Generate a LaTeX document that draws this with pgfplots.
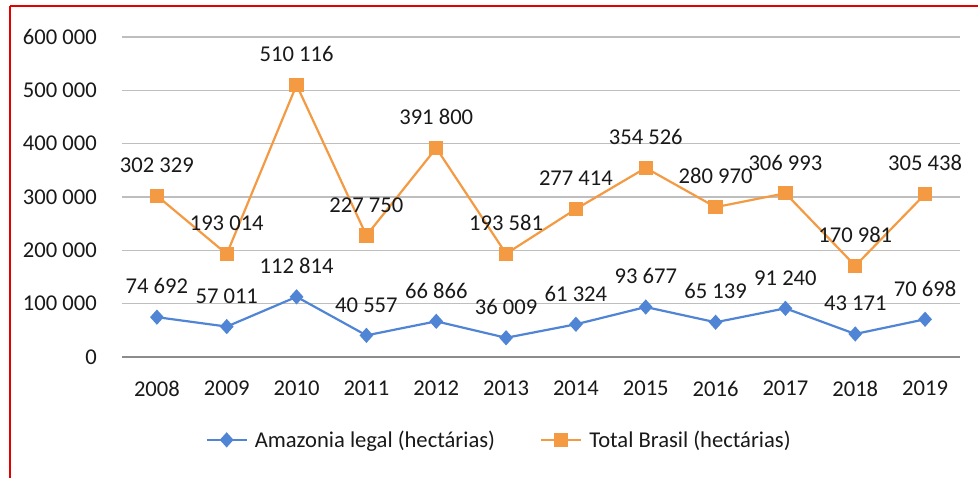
\documentclass[border=0pt]{standalone}
\usepackage{pgfplots}
\pgfplotsset{compat=1.18}
\usepackage{fontspec}
\setmainfont{Carlito}
\definecolor{cblue}{RGB}{80,132,212}
\definecolor{corange}{RGB}{243,154,66}
\definecolor{cgrid}{RGB}{190,190,190}
\begin{document}
\begin{tikzpicture}[x=1pt,y=1pt,font=\fontsize{22.6}{27}\selectfont]
\path[use as bounding box] (0,0) rectangle (978,478);
\draw[red!90!black, line width=2pt] (10,472) -- (978,472);
\draw[red!90!black, line width=2pt] (10,472) -- (10,0);
\begin{axis}[
  at={(122pt,121pt)}, anchor=south west,
  scale only axis, width=838pt, height=320pt,
  xmin=-0.5, xmax=11.5, ymin=0, ymax=600000,
  xtick={0,...,11},
  xticklabels={2008,2009,2010,2011,2012,2013,2014,2015,2016,2017,2018,2019},
  ytick={0,100000,200000,300000,400000,500000,600000},
  scaled y ticks=false,
  /pgf/number format/.cd, fixed, 1000 sep={\ }, assume math mode=true,
  /pgfplots/.cd,
  major tick length=0pt,
  ymajorgrids, grid style={cgrid, line width=1.3pt},
  axis x line*=bottom, axis y line*=left,
  x axis line style={draw=gray!90, line width=1.3pt, -},
  y axis line style={draw=none},
  yticklabel style={anchor=east, inner sep=0pt, xshift=-25pt, text=black!90},
  xticklabel style={anchor=north, inner sep=0pt, yshift=-24pt, text=black!90},
  nodes near coords,
  every node near coord/.append style={anchor=south, inner sep=0pt, yshift=22pt, text=black!90, font=\fontsize{22.6}{27}\selectfont},
  legend style={at={(0.453,-0.259)}, anchor=center, draw=none, fill=none,
    legend columns=2, /tikz/column 2/.style={column sep=38pt},
    font=\fontsize{22.6}{27}\selectfont, text=black!90,
    nodes={inner xsep=7pt}},
  legend image code/.code={\draw[mark repeat=2,mark phase=2,#1] plot coordinates {(0pt,0pt) (20pt,0pt) (40pt,0pt)};},
]
\addplot[cblue, line width=2.2pt, mark=diamond*, mark size=6pt, mark options={xscale=1.2, solid}] coordinates {
(0,74692) (1,57011) (2,112814) (3,40557) (4,66866) (5,36009)
(6,61324) (7,93677) (8,65139) (9,91240) (10,43171) (11,70698)};
\addlegendentry{Amazonia legal (hectárias)}
\addplot[corange, line width=2.2pt, mark=square*, mark size=6pt, mark options={solid}] coordinates {
(0,302329) (1,193014) (2,510116) (3,227750) (4,391800) (5,193581)
(6,277414) (7,354526) (8,280970) (9,306993) (10,170981) (11,305438)};
\addlegendentry{Total Brasil (hectárias)}
\end{axis}
\end{tikzpicture}
\end{document}
